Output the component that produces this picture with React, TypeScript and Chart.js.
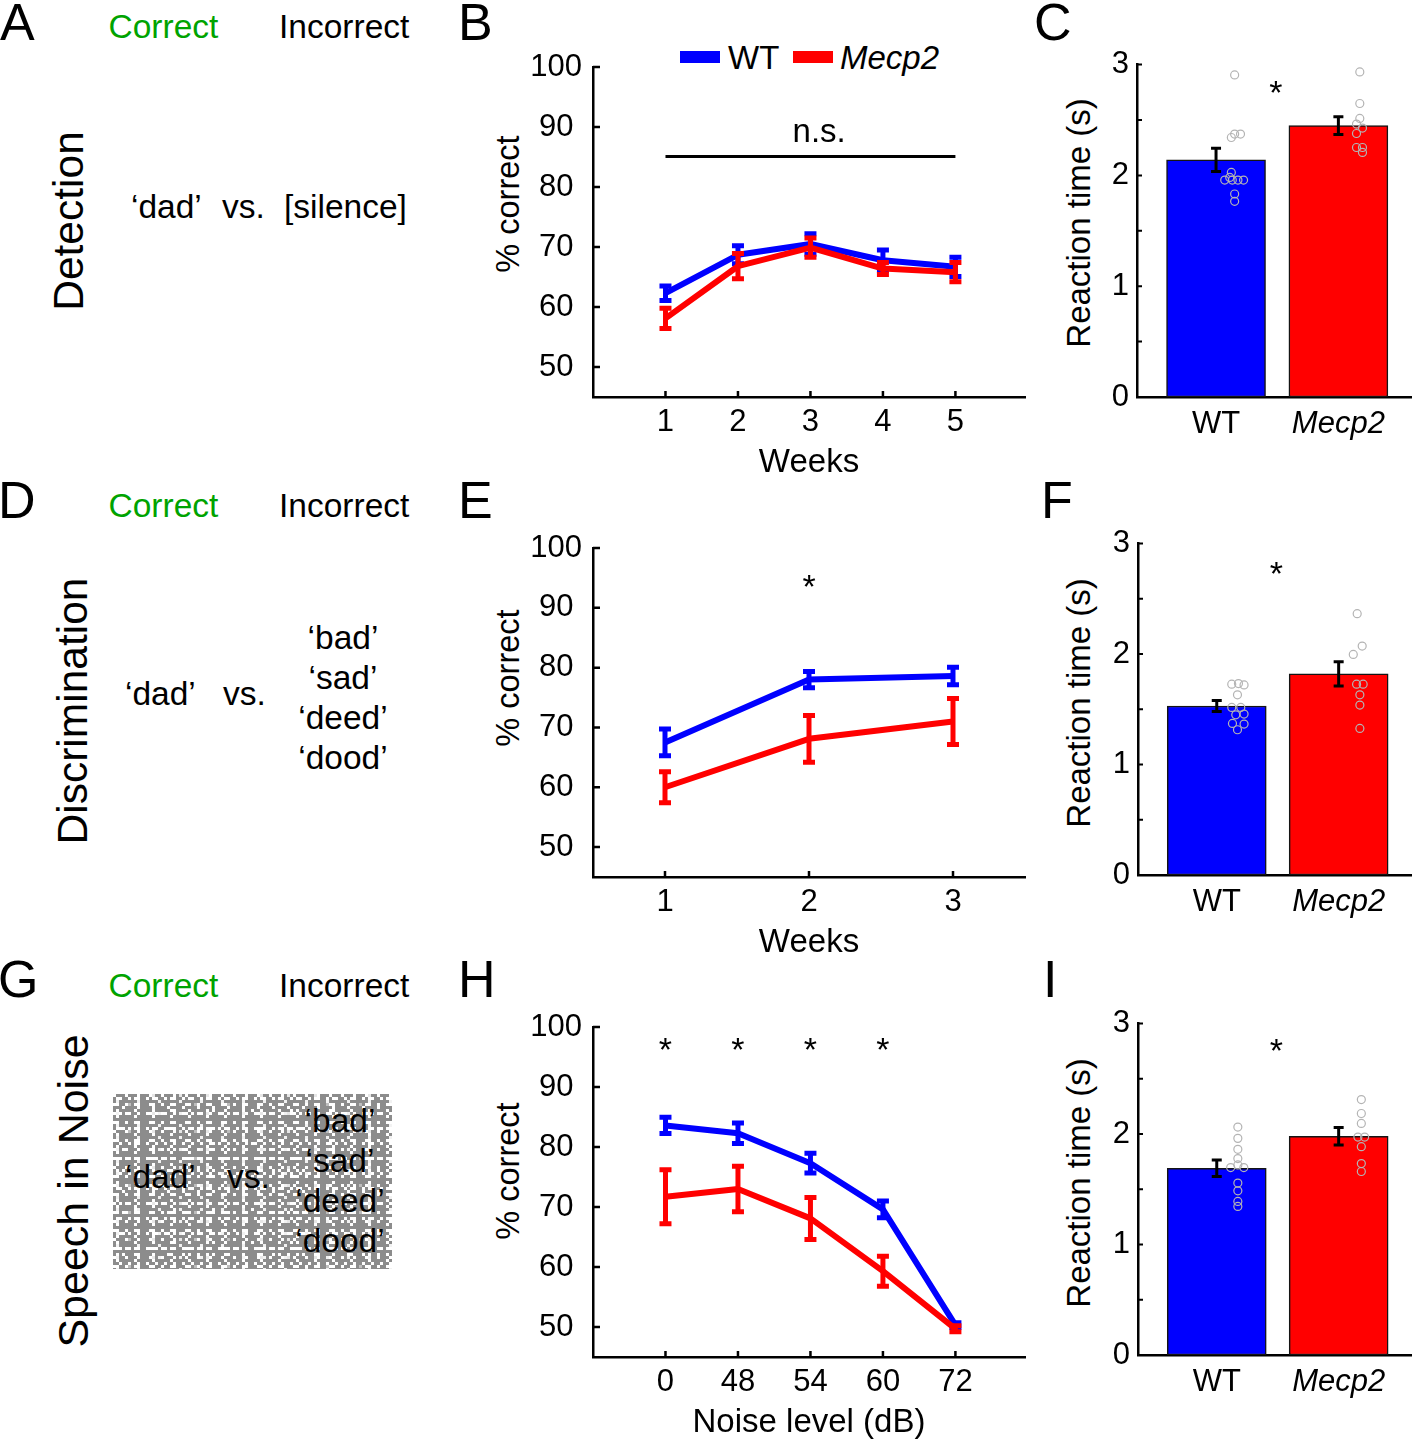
import React, { useEffect, useRef } from "react";
import { Chart, registerables } from "chart.js";

Chart.register(...registerables);

const FONT = '"Liberation Sans", Arial, Helvetica, sans-serif';
const BLUE = "#0000ff";
const RED = "#ff0000";
const GREEN = "#00a300";
const DOT = "#b4b4b4";

Chart.defaults.font.family = FONT;
Chart.defaults.color = "#000";

// ---------- Panel B : Detection (% correct by week) ----------
const detectionWeeks = [1, 2, 3, 4, 5];
const detectionWeekLabels = ["1", "2", "3", "4", "5"];
const detectionWT = [62.3, 68.7, 70.5, 67.8, 66.7];
const detectionWTErr = [1.2, 1.5, 1.7, 1.7, 1.6];
const detectionMecp2 = [58.1, 66.8, 69.9, 66.4, 65.8];
const detectionMecp2Err = [1.7, 2.1, 1.6, 1.0, 1.6];

// ---------- Panel E : Discrimination ----------
const discrimWeeks = [1, 2, 3];
const discrimWeekLabels = ["1", "2", "3"];
const discrimWT = [67.5, 78.0, 78.6];
const discrimWTErr = [2.25, 1.35, 1.45];
const discrimMecp2 = [60.0, 68.1, 71.0];
const discrimMecp2Err = [2.6, 3.9, 3.85];

// ---------- Panel H : Speech in noise ----------
const noisePositions = [1, 2, 3, 4, 5];
const noiseLevelLabels = ["0", "48", "54", "60", "72"];
const noiseWT = [83.6, 82.3, 77.3, 69.6, 50.3];
const noiseWTErr = [1.35, 1.7, 1.65, 1.4, 0.4];
const noiseMecp2 = [71.7, 73.0, 68.1, 59.3, 49.7];
const noiseMecp2Err = [4.5, 3.8, 3.5, 2.5, 0.5];

const pctTicks = [50, 60, 70, 80, 90, 100];

// ---------- Reaction time bars (C, F, I) ----------
const groupLabels = ["WT", "Mecp2"];
const groupPositions = [1, 2];
const rtTicks = [0, 0.5, 1, 1.5, 2, 2.5, 3];

const rtDetection = [2.14, 2.45];
const rtDetectionErr = [0.105, 0.08];
const rtDetWTDotsX = [1.152, 1.125, 1.152, 1.2, 1.125, 1.112, 1.071, 1.133, 1.179, 1.225, 1.152, 1.152];
const rtDetWTDotsY = [2.907, 2.342, 2.373, 2.373, 2.027, 1.982, 1.958, 1.958, 1.958, 1.958, 1.832, 1.766];
const rtDetMutDotsX = [2.175, 2.175, 2.175, 2.148, 2.197, 2.148, 2.148, 2.197, 2.197];
const rtDetMutDotsY = [2.934, 2.649, 2.514, 2.463, 2.427, 2.378, 2.252, 2.252, 2.207];

const rtDiscrim = [1.53, 1.82];
const rtDiscrimErr = [0.05, 0.11];
const rtDisWTDotsX = [1.123, 1.178, 1.224, 1.17, 1.123, 1.197, 1.156, 1.224, 1.129, 1.224, 1.17];
const rtDisWTDotsY = [1.727, 1.733, 1.721, 1.631, 1.517, 1.517, 1.45, 1.457, 1.372, 1.366, 1.315];
const rtDisMutDotsX = [2.152, 2.193, 2.12, 2.147, 2.201, 2.174, 2.174, 2.174];
const rtDisMutDotsY = [2.366, 2.072, 1.997, 1.727, 1.727, 1.631, 1.538, 1.327];

const rtNoise = [1.69, 1.98];
const rtNoiseErr = [0.075, 0.08];
const rtNoiWTDotsX = [1.173, 1.173, 1.173, 1.173, 1.173, 1.114, 1.222, 1.173, 1.173, 1.173, 1.173];
const rtNoiWTDotsY = [2.063, 1.961, 1.862, 1.778, 1.721, 1.697, 1.697, 1.556, 1.486, 1.39, 1.345];
const rtNoiMutDotsX = [2.186, 2.186, 2.186, 2.158, 2.213, 2.186, 2.186, 2.186];
const rtNoiMutDotsY = [2.312, 2.186, 2.096, 1.973, 1.973, 1.886, 1.733, 1.661];

// ---------- significance marks ----------
const detectionNSLine = { x1: 1, x2: 5, y: 85.1 };
const detectionNSText = { x: 3.12, y: 87.5, text: "n.s." };
const discrimStarsX = [2];
const discrimStarY = 91.7;
const noiseStarsX = [1, 2, 3, 4];
const noiseStarY = 94.3;
const rtStarX = 1.49;
const rtStarY = [2.643, 2.628, 2.649];

type TextMark = { x: number; y: number; text: string; size: number };
type LineMark = { x1: number; x2: number; y: number; w: number };
type DecorSpec = { yTickLen: number; xTickLen: number; tickWidth: number; lines: LineMark[]; texts: TextMark[] };

function makeDecor(spec: DecorSpec) {
  return {
    id: "decor",
    beforeDatasetsDraw(chart: any) {
      const { ctx, chartArea } = chart;
      const xs = chart.scales.x;
      const ys = chart.scales.y;
      ctx.save();
      ctx.strokeStyle = "#000";
      ctx.lineWidth = spec.tickWidth;
      ctx.beginPath();
      for (const t of ys.ticks) {
        const p = ys.getPixelForValue(t.value);
        ctx.moveTo(chartArea.left, p);
        ctx.lineTo(chartArea.left + spec.yTickLen, p);
      }
      if (spec.xTickLen > 0) {
        for (const t of xs.ticks) {
          const p = xs.getPixelForValue(t.value);
          ctx.moveTo(p, chartArea.bottom);
          ctx.lineTo(p, chartArea.bottom - spec.xTickLen);
        }
      }
      ctx.stroke();
      ctx.restore();
    },
    afterDatasetDraw(chart: any, args: any) {
      const ds: any = chart.data.datasets[args.index];
      if (!ds.errors) return;
      const { ctx } = chart;
      const xs = chart.scales.x;
      const ys = chart.scales.y;
      ctx.save();
      ctx.strokeStyle = ds.errColor;
      ctx.lineCap = "butt";
      ds.data.forEach((pt: any, i: number) => {
        const e = ds.errors[i];
        const px = xs.getPixelForValue(pt.x);
        const hi = ys.getPixelForValue(pt.y + e);
        const lo = ys.getPixelForValue(pt.y - e);
        ctx.lineWidth = ds.errWidth;
        ctx.beginPath();
        ctx.moveTo(px, hi);
        ctx.lineTo(px, lo);
        ctx.stroke();
        ctx.lineWidth = ds.capThick;
        ctx.beginPath();
        ctx.moveTo(px - ds.capHalf, hi);
        ctx.lineTo(px + ds.capHalf, hi);
        ctx.moveTo(px - ds.capHalf, lo);
        ctx.lineTo(px + ds.capHalf, lo);
        ctx.stroke();
      });
      ctx.restore();
    },
    afterDatasetsDraw(chart: any) {
      const { ctx } = chart;
      const xs = chart.scales.x;
      const ys = chart.scales.y;
      ctx.save();
      ctx.strokeStyle = "#000";
      for (const l of spec.lines) {
        ctx.lineWidth = l.w;
        const y = ys.getPixelForValue(l.y);
        ctx.beginPath();
        ctx.moveTo(xs.getPixelForValue(l.x1), y);
        ctx.lineTo(xs.getPixelForValue(l.x2), y);
        ctx.stroke();
      }
      ctx.fillStyle = "#000";
      ctx.textAlign = "center";
      ctx.textBaseline = "alphabetic";
      for (const t of spec.texts) {
        ctx.font = `${t.size}px ${FONT}`;
        ctx.fillText(t.text, xs.getPixelForValue(t.x), ys.getPixelForValue(t.y));
      }
      ctx.restore();
    },
  };
}

type Area = { l: number; t: number; r: number; b: number };
type Frame = { area: Area; yw: number; xh: number; pt: number; pr: number };

const axisBorder = { display: true, color: "#000", width: 2.5 };
const TICK_SIZE = 31;
const TITLE_SIZE = 33;
const STAR_SIZE = 34;

function lineConfig(p: {
  frame: Frame;
  xs: number[];
  xLabels: string[];
  xMin: number;
  xMax: number;
  xTitle: string;
  wt: number[];
  wtErr: number[];
  mut: number[];
  mutErr: number[];
  lines: LineMark[];
  texts: TextMark[];
}) {
  const mk = (vals: number[]) => p.xs.map((x, i) => ({ x, y: vals[i] }));
  const series = (label: string, vals: number[], errs: number[], color: string, order: number) => ({
    label,
    data: mk(vals),
    borderColor: color,
    backgroundColor: color,
    borderWidth: 6,
    pointRadius: 0,
    tension: 0,
    borderJoinStyle: "round",
    order,
    errors: errs,
    errColor: color,
    errWidth: 5,
    capHalf: 6,
    capThick: 5,
  });
  return {
    type: "line",
    data: {
      datasets: [series("WT", p.wt, p.wtErr, BLUE, 2), series("Mecp2", p.mut, p.mutErr, RED, 1)],
    },
    options: {
      responsive: false,
      animation: false,
      events: [],
      devicePixelRatio: 1,
      layout: { padding: { top: p.frame.pt, right: p.frame.pr, left: 0, bottom: 0 } },
      plugins: { legend: { display: false }, tooltip: { enabled: false } },
      scales: {
        x: {
          type: "linear",
          min: p.xMin,
          max: p.xMax,
          offset: false,
          afterBuildTicks: (s: any) => {
            s.ticks = p.xs.map((v) => ({ value: v }));
          },
          afterFit: (s: any) => {
            s.height = p.frame.xh;
          },
          grid: { display: false, drawTicks: false },
          border: axisBorder,
          ticks: {
            color: "#000",
            font: { family: FONT, size: TICK_SIZE },
            padding: 7,
            maxRotation: 0,
            autoSkip: false,
            callback: (_v: any, i: number) => p.xLabels[i],
          },
          title: {
            display: true,
            text: p.xTitle,
            color: "#000",
            font: { family: FONT, size: TITLE_SIZE, lineHeight: 1 },
            padding: 0,
          },
        },
        y: {
          type: "linear",
          min: 45,
          max: 100,
          afterBuildTicks: (s: any) => {
            s.ticks = pctTicks.map((v) => ({ value: v }));
          },
          afterFit: (s: any) => {
            s.width = p.frame.yw;
          },
          grid: { display: false, drawTicks: false },
          border: axisBorder,
          ticks: {
            color: "#000",
            font: { family: FONT, size: TICK_SIZE },
            padding: 11,
            crossAlign: "center",
            autoSkip: false,
          },
        },
      },
    },
    plugins: [makeDecor({ yTickLen: 7, xTickLen: 6, tickWidth: 2.5, lines: p.lines, texts: p.texts })],
  };
}

function barConfig(p: {
  frame: Frame;
  values: number[];
  errs: number[];
  wtX: number[];
  wtY: number[];
  mutX: number[];
  mutY: number[];
  starY: number;
}) {
  const dots = (xs: number[], ys: number[]) => xs.map((x, i) => ({ x, y: ys[i] }));
  const dotStyle = {
    type: "scatter",
    pointRadius: 4,
    pointBorderWidth: 1.2,
    pointBorderColor: DOT,
    pointBackgroundColor: "rgba(0,0,0,0)",
    borderColor: DOT,
    backgroundColor: "rgba(0,0,0,0)",
    showLine: false,
    order: 0,
  };
  return {
    type: "bar",
    data: {
      datasets: [
        {
          type: "bar",
          data: groupPositions.map((x, i) => ({ x, y: p.values[i] })),
          backgroundColor: [BLUE, RED],
          borderColor: "#141414",
          borderWidth: 1.5,
          borderSkipped: false,
          barThickness: 99,
          order: 1,
          errors: p.errs,
          errColor: "#000",
          errWidth: 3,
          capHalf: 5,
          capThick: 3,
        },
        { ...dotStyle, data: dots(p.wtX, p.wtY) },
        { ...dotStyle, data: dots(p.mutX, p.mutY) },
      ],
    },
    options: {
      responsive: false,
      animation: false,
      events: [],
      devicePixelRatio: 1,
      layout: { padding: { top: p.frame.pt, right: p.frame.pr, left: 0, bottom: 0 } },
      plugins: { legend: { display: false }, tooltip: { enabled: false } },
      scales: {
        x: {
          type: "linear",
          min: 0.354,
          max: 2.6,
          offset: false,
          afterBuildTicks: (s: any) => {
            s.ticks = groupPositions.map((v) => ({ value: v }));
          },
          afterFit: (s: any) => {
            s.height = p.frame.xh;
          },
          grid: { display: false, drawTicks: false, offset: false },
          border: axisBorder,
          ticks: {
            color: "#000",
            padding: 9,
            maxRotation: 0,
            autoSkip: false,
            font: (c: any) => ({
              family: FONT,
              size: TICK_SIZE,
              style: c.index === 1 ? "italic" : "normal",
            }),
            callback: (_v: any, i: number) => groupLabels[i],
          },
        },
        y: {
          type: "linear",
          min: 0,
          max: 3,
          afterBuildTicks: (s: any) => {
            s.ticks = rtTicks.map((v) => ({ value: v }));
          },
          afterFit: (s: any) => {
            s.width = p.frame.yw;
          },
          grid: { display: false, drawTicks: false },
          border: axisBorder,
          ticks: {
            color: "#000",
            font: { family: FONT, size: TICK_SIZE },
            padding: 8,
            autoSkip: false,
            callback: (v: any) => (Number.isInteger(v) ? String(v) : ""),
          },
        },
      },
    },
    plugins: [
      makeDecor({
        yTickLen: 5,
        xTickLen: 0,
        tickWidth: 2,
        lines: [],
        texts: [{ x: rtStarX, y: p.starY, text: "*", size: STAR_SIZE }],
      }),
    ],
  };
}

function ChartBox({ frame, build }: { frame: Frame; build: () => any }) {
  const ref = useRef<HTMLCanvasElement>(null);
  const { area, yw, xh, pt, pr } = frame;
  const left = area.l - yw;
  const top = area.t - pt;
  const width = area.r - area.l + yw + pr;
  const height = area.b - area.t + pt + xh;
  useEffect(() => {
    const chart = new Chart(ref.current as HTMLCanvasElement, build());
    return () => chart.destroy();
  }, []);
  return (
    <canvas
      ref={ref}
      width={width}
      height={height}
      style={{ position: "absolute", left, top, width, height }}
    />
  );
}

// ---------- HTML text helpers ----------
function Txt(props: {
  x: number;
  base: number;
  size: number;
  color?: string;
  italic?: boolean;
  children: React.ReactNode;
}) {
  const { x, base, size, color = "#000", italic = false, children } = props;
  return (
    <div
      style={{
        position: "absolute",
        left: x,
        top: base - 0.8465 * size,
        fontSize: size,
        lineHeight: `${size}px`,
        fontFamily: FONT,
        color,
        fontStyle: italic ? "italic" : "normal",
        whiteSpace: "nowrap",
      }}
    >
      {children}
    </div>
  );
}

function VTxt(props: { cx: number; cy: number; size: number; children: React.ReactNode }) {
  const { cx, cy, size, children } = props;
  return (
    <div
      style={{
        position: "absolute",
        left: cx,
        top: cy,
        fontSize: size,
        lineHeight: `${size}px`,
        fontFamily: FONT,
        color: "#000",
        whiteSpace: "nowrap",
        transform: "translate(-50%, -50%) rotate(-90deg)",
      }}
    >
      {children}
    </div>
  );
}

const HDR = 33.5;

function WordList(props: { cx: number; firstBase: number; words: string[] }) {
  const lh = 40;
  return (
    <div
      style={{
        position: "absolute",
        left: props.cx - 80,
        width: 160,
        top: props.firstBase - (lh / 2 + 0.3465 * HDR),
        fontSize: HDR,
        lineHeight: `${lh}px`,
        fontFamily: FONT,
        textAlign: "center",
        color: "#000",
      }}
    >
      {props.words.map((w) => (
        <div key={w}>{w}</div>
      ))}
    </div>
  );
}

const distractors = ["\u2018bad\u2019", "\u2018sad\u2019", "\u2018deed\u2019", "\u2018dood\u2019"];
const panelLetters = [
  { l: "A", x: 0, base: 40 },
  { l: "B", x: 458, base: 40 },
  { l: "C", x: 1034, base: 40 },
  { l: "D", x: -2, base: 518 },
  { l: "E", x: 458, base: 518 },
  { l: "F", x: 1041, base: 518 },
  { l: "G", x: -2, base: 997 },
  { l: "H", x: 458, base: 997 },
  { l: "I", x: 1043, base: 997 },
];

// speckle texture for the "noise" box (decoration only, built from tiled 3px squares)
const sq = (c: string) => `conic-gradient(at 3px 3px, rgba(0,0,0,0) 75%, ${c} 0)`;
const noiseTexture = {
  backgroundColor: "#8c8c8c",
  backgroundImage: [
    sq("#ffffff"),
    sq("#ffffff"),
    sq("#f2f2f2"),
    sq("#ffffff"),
    sq("#e6e6e6"),
    sq("#ffffff"),
    sq("#bdbdbd"),
    sq("#ffffff"),
  ].join(","),
  backgroundSize: "12px 9px, 9px 15px, 21px 12px, 15px 21px, 27px 18px, 18px 6px, 33px 27px, 39px 33px",
  backgroundPosition: "0 0, 6px 3px, 3px 6px, 9px 12px, 12px 0, 3px 3px, 15px 9px, 21px 15px",
};

const frameB: Frame = { area: { l: 593, t: 67, r: 1025, b: 397 }, yw: 73, xh: 82, pt: 30, pr: 12 };
const frameE: Frame = { area: { l: 593, t: 548, r: 1025, b: 877 }, yw: 73, xh: 82, pt: 30, pr: 12 };
const frameH: Frame = { area: { l: 593, t: 1027, r: 1025, b: 1357 }, yw: 73, xh: 82, pt: 30, pr: 12 };
const frameC: Frame = { area: { l: 1137, t: 63, r: 1413, b: 397 }, yw: 37, xh: 50, pt: 25, pr: 4 };
const frameF: Frame = { area: { l: 1138, t: 542, r: 1413, b: 875 }, yw: 37, xh: 50, pt: 25, pr: 4 };
const frameI: Frame = { area: { l: 1138, t: 1022, r: 1413, b: 1355 }, yw: 37, xh: 50, pt: 25, pr: 4 };

export default function App() {
  return (
    <div
      style={{
        position: "absolute",
        left: 0,
        top: 0,
        width: 1417,
        height: 1441,
        overflow: "hidden",
        background: "#fff",
        fontFamily: FONT,
      }}
    >
      {panelLetters.map((p) => (
        <Txt key={p.l} x={p.x} base={p.base} size={52}>
          {p.l}
        </Txt>
      ))}

      {/* Row headers */}
      {[38, 517, 997].map((b) => (
        <React.Fragment key={b}>
          <Txt x={108.5} base={b} size={HDR} color={GREEN}>
            Correct
          </Txt>
          <Txt x={279} base={b} size={HDR}>
            Incorrect
          </Txt>
        </React.Fragment>
      ))}

      {/* Task names */}
      <VTxt cx={69} cy={221} size={42.5}>
        Detection
      </VTxt>
      <VTxt cx={73} cy={711} size={42.5}>
        Discrimination
      </VTxt>
      <VTxt cx={73} cy={1191} size={43}>
        Speech in Noise
      </VTxt>

      {/* A */}
      <Txt x={131} base={218} size={HDR}>
        {"\u2018dad\u2019"}
      </Txt>
      <Txt x={222} base={218} size={HDR}>
        vs.
      </Txt>
      <Txt x={284} base={218} size={HDR}>
        [silence]
      </Txt>

      {/* D */}
      <Txt x={125} base={705} size={HDR}>
        {"\u2018dad\u2019"}
      </Txt>
      <Txt x={223} base={705} size={HDR}>
        vs.
      </Txt>
      <WordList cx={343} firstBase={650} words={distractors} />

      {/* G */}
      <div
        style={{
          position: "absolute",
          left: 113,
          top: 1094,
          width: 279,
          height: 175,
          ...noiseTexture,
        }}
      />
      <Txt x={125} base={1188} size={HDR}>
        {"\u2018dad\u2019"}
      </Txt>
      <Txt x={227} base={1188} size={HDR}>
        vs.
      </Txt>
      <WordList cx={340} firstBase={1133} words={distractors} />

      {/* Legend for B */}
      <div style={{ position: "absolute", left: 680, top: 51, width: 40, height: 12, background: BLUE }} />
      <Txt x={728} base={69} size={33}>
        WT
      </Txt>
      <div style={{ position: "absolute", left: 793, top: 51, width: 40, height: 12, background: RED }} />
      <Txt x={840} base={69} size={33} italic>
        Mecp2
      </Txt>

      {/* y-axis titles */}
      <VTxt cx={508} cy={204} size={32.5}>
        % correct
      </VTxt>
      <VTxt cx={508} cy={678} size={32.5}>
        % correct
      </VTxt>
      <VTxt cx={508} cy={1171} size={32.5}>
        % correct
      </VTxt>
      <VTxt cx={1078} cy={223} size={33}>
        Reaction time (s)
      </VTxt>
      <VTxt cx={1078} cy={703} size={33}>
        Reaction time (s)
      </VTxt>
      <VTxt cx={1078} cy={1183} size={33}>
        Reaction time (s)
      </VTxt>

      <ChartBox
        frame={frameB}
        build={() =>
          lineConfig({
            frame: frameB,
            xs: detectionWeeks,
            xLabels: detectionWeekLabels,
            xMin: 0,
            xMax: 5.96,
            xTitle: "Weeks",
            wt: detectionWT,
            wtErr: detectionWTErr,
            mut: detectionMecp2,
            mutErr: detectionMecp2Err,
            lines: [{ ...detectionNSLine, w: 3 }],
            texts: [{ ...detectionNSText, size: 33 }],
          })
        }
      />
      <ChartBox
        frame={frameE}
        build={() =>
          lineConfig({
            frame: frameE,
            xs: discrimWeeks,
            xLabels: discrimWeekLabels,
            xMin: 0.5,
            xMax: 3.5,
            xTitle: "Weeks",
            wt: discrimWT,
            wtErr: discrimWTErr,
            mut: discrimMecp2,
            mutErr: discrimMecp2Err,
            lines: [],
            texts: discrimStarsX.map((x) => ({ x, y: discrimStarY, text: "*", size: STAR_SIZE })),
          })
        }
      />
      <ChartBox
        frame={frameH}
        build={() =>
          lineConfig({
            frame: frameH,
            xs: noisePositions,
            xLabels: noiseLevelLabels,
            xMin: 0,
            xMax: 5.96,
            xTitle: "Noise level (dB)",
            wt: noiseWT,
            wtErr: noiseWTErr,
            mut: noiseMecp2,
            mutErr: noiseMecp2Err,
            lines: [],
            texts: noiseStarsX.map((x) => ({ x, y: noiseStarY, text: "*", size: STAR_SIZE })),
          })
        }
      />
      <ChartBox
        frame={frameC}
        build={() =>
          barConfig({
            frame: frameC,
            values: rtDetection,
            errs: rtDetectionErr,
            wtX: rtDetWTDotsX,
            wtY: rtDetWTDotsY,
            mutX: rtDetMutDotsX,
            mutY: rtDetMutDotsY,
            starY: rtStarY[0],
          })
        }
      />
      <ChartBox
        frame={frameF}
        build={() =>
          barConfig({
            frame: frameF,
            values: rtDiscrim,
            errs: rtDiscrimErr,
            wtX: rtDisWTDotsX,
            wtY: rtDisWTDotsY,
            mutX: rtDisMutDotsX,
            mutY: rtDisMutDotsY,
            starY: rtStarY[1],
          })
        }
      />
      <ChartBox
        frame={frameI}
        build={() =>
          barConfig({
            frame: frameI,
            values: rtNoise,
            errs: rtNoiseErr,
            wtX: rtNoiWTDotsX,
            wtY: rtNoiWTDotsY,
            mutX: rtNoiMutDotsX,
            mutY: rtNoiMutDotsY,
            starY: rtStarY[2],
          })
        }
      />
    </div>
  );
}
